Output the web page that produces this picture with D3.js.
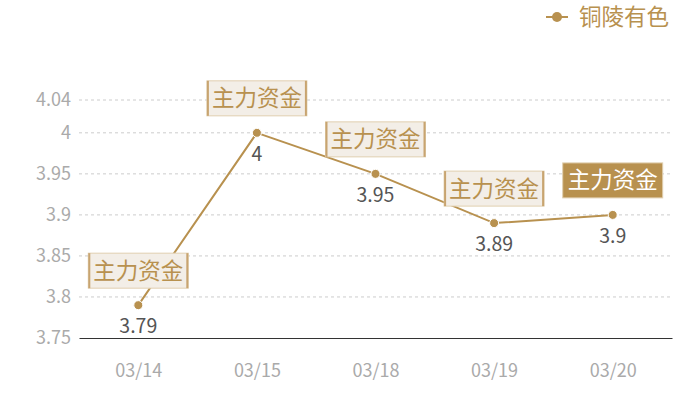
<!DOCTYPE html>
<html lang="zh">
<head>
<meta charset="UTF-8">
<title>铜陵有色</title>
<script src="https://cdn.jsdelivr.net/npm/d3@7"></script>
<style>
  body { margin: 0; background: #fff; }
  svg text { font-family: "Noto Sans CJK SC", "Noto Sans", sans-serif; }
</style>
</head>
<body>
<script>
const dates = ["03/14", "03/15", "03/18", "03/19", "03/20"]
const prices = [3.79, 4, 3.95, 3.89, 3.9]
const tags = ["主力资金", "主力资金", "主力资金", "主力资金", "主力资金"]
const yTicks = [3.75, 3.8, 3.85, 3.9, 3.95, 4, 4.04]
const seriesName = "铜陵有色"

const w = 700, h = 400
const gold = "#b8914f"
const m = {left: 79, right: 28, top: 100, bottom: 62}

const svg = d3.select("body").append("svg").attr("width", w).attr("height", h)

const x = d3.scalePoint().domain(dates).range([m.left, w - m.right]).padding(0.5)
const y = d3.scaleLinear().domain([3.75, 4.04]).range([h - m.bottom, m.top])

// grid lines
svg.append("g").selectAll("line")
  .data(yTicks.slice(1))
  .join("line")
  .attr("x1", m.left).attr("x2", w - m.right)
  .attr("y1", d => y(d)).attr("y2", d => y(d))
  .attr("stroke", "#ccc").attr("stroke-dasharray", "3,3")

// y axis
const yAxis = svg.append("g")
  .attr("transform", `translate(${m.left},0)`)
  .call(d3.axisLeft(y).tickValues(yTicks).tickFormat(d => d).tickSize(0).tickPadding(8))
yAxis.select(".domain").remove()
yAxis.selectAll("text").attr("fill", "#aaa").style("font-size", "18px")

// x axis
const xAxis = svg.append("g")
  .attr("transform", `translate(0,${h - m.bottom})`)
  .call(d3.axisBottom(x).tickSize(0).tickPadding(26))
xAxis.select(".domain").attr("stroke", "#333")
xAxis.selectAll("text").attr("fill", "#aaa").style("font-size", "18px")

// line
svg.append("path")
  .datum(prices)
  .attr("fill", "none").attr("stroke", gold).attr("stroke-width", 2)
  .attr("d", d3.line().x((d, i) => x(dates[i])).y(d => y(d)))

svg.append("g").selectAll("circle")
  .data(prices)
  .join("circle")
  .attr("cx", (d, i) => x(dates[i])).attr("cy", d => y(d))
  .attr("r", 4.5).attr("fill", gold).attr("stroke", "#fff").attr("stroke-width", 1)

// value labels
svg.append("g").selectAll("text")
  .data(prices)
  .join("text")
  .attr("x", (d, i) => x(dates[i])).attr("y", d => y(d) + 28)
  .attr("text-anchor", "middle").attr("fill", "#555").style("font-size", "19.5px")
  .text(d => d)

// tag boxes
const bw = 100, bh = 35
const tg = svg.append("g").selectAll("g")
  .data(prices)
  .join("g")
  .attr("transform", (d, i) => `translate(${x(dates[i]) - bw / 2},${y(d) - 17 - bh})`)
tg.append("rect")
  .attr("width", bw).attr("height", bh)
  .attr("fill", (d, i) => i === prices.length - 1 ? gold : "#f3eee7")
  .attr("stroke", "#e0cfb0").attr("stroke-width", 1)
tg.append("line").attr("x1", 1).attr("x2", 1).attr("y1", 0).attr("y2", bh)
  .attr("stroke", (d, i) => i === prices.length - 1 ? "none" : "#c8a470").attr("stroke-width", 2)
tg.append("line").attr("x1", bw - 1).attr("x2", bw - 1).attr("y1", 0).attr("y2", bh)
  .attr("stroke", (d, i) => i === prices.length - 1 ? "none" : "#c8a470").attr("stroke-width", 2)
tg.append("text")
  .attr("x", bw / 2).attr("y", bh / 2 + 8)
  .attr("text-anchor", "middle")
  .attr("fill", (d, i) => i === prices.length - 1 ? "#fff" : gold)
  .style("font-size", "22.5px")
  .text((d, i) => tags[i])

// legend
const lg = svg.append("g").attr("transform", "translate(546,17)")
lg.append("line").attr("x1", 0).attr("x2", 22).attr("stroke", gold).attr("stroke-width", 2)
lg.append("circle").attr("cx", 11).attr("r", 5).attr("fill", gold)
lg.append("text").attr("x", 33).attr("y", 8).attr("fill", gold).style("font-size", "22.5px").text(seriesName)
</script>
</body>
</html>
